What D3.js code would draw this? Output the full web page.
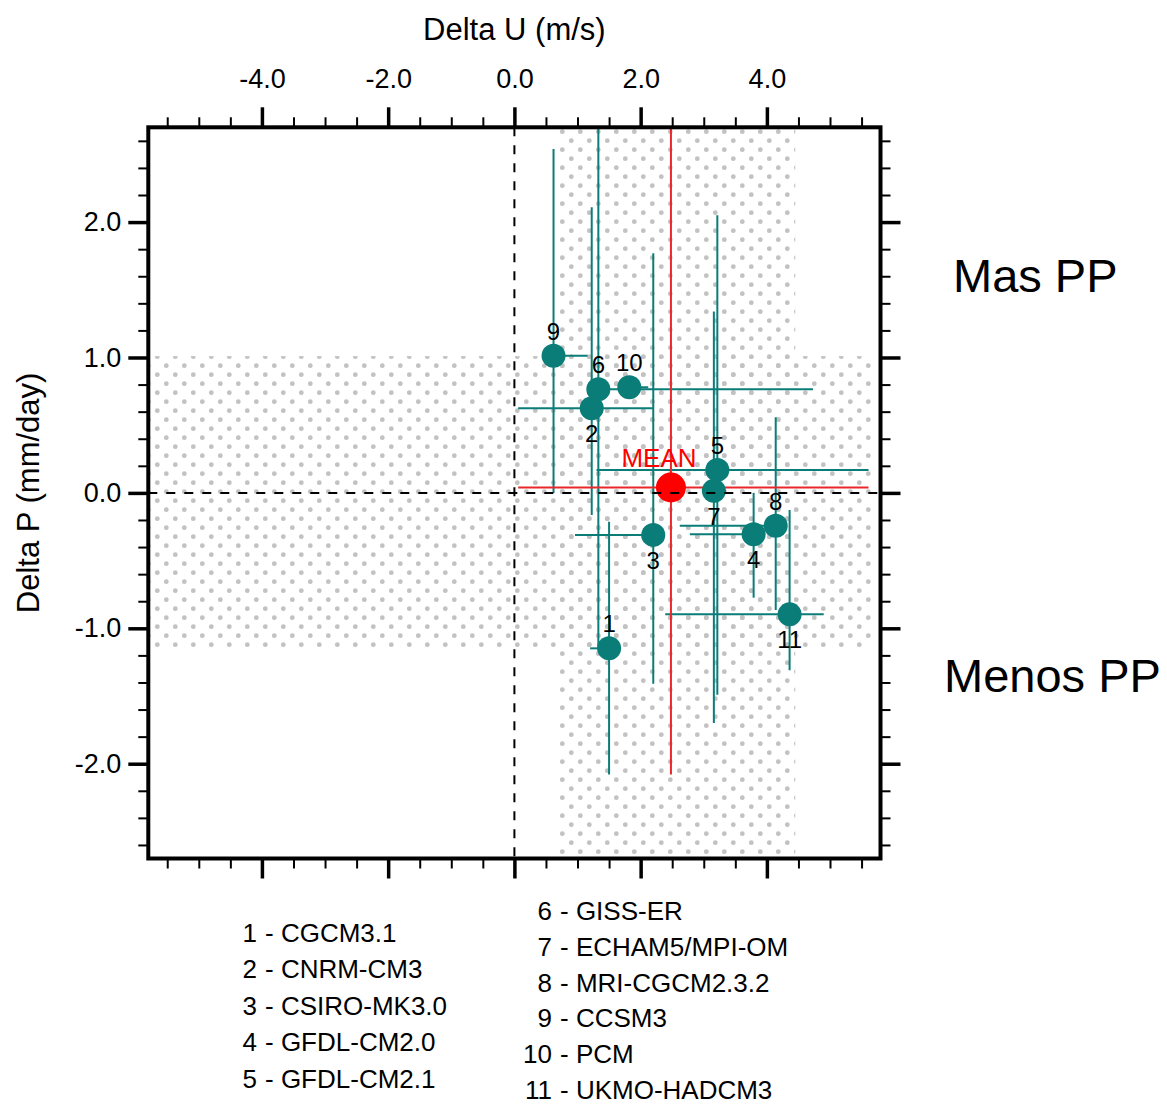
<!DOCTYPE html>
<html>
<head>
<meta charset="utf-8">
<script src="https://cdn.jsdelivr.net/npm/d3@7"></script>
<style>
  body { margin: 0; background: #fff; }
  text { font-family: "Liberation Sans", Arial, Helvetica, sans-serif; }
</style>
</head>
<body>
<div id="chart"></div>
<script>
// Model names (legend order)
const models = ["CGCM3.1", "CNRM-CM3", "CSIRO-MK3.0", "GFDL-CM2.0", "GFDL-CM2.1",
  "GISS-ER", "ECHAM5/MPI-OM", "MRI-CGCM2.3.2", "CCSM3", "PCM", "UKMO-HADCM3"];

// Central values
const deltaU = [1.50, 1.225, 2.20, 3.79, 3.215, 1.33, 3.16, 4.14, 0.62, 1.82, 4.36];
const deltaP = [-1.148, 0.625, -0.31, -0.305, 0.17, 0.766, 0.015, -0.242, 1.013, 0.78, -0.897];

// Ranges (whiskers)
const uLow  = [1.20, 0.06, 0.96, 2.78, 1.30, 1.30, 3.00, 2.62, 0.50, 1.75, 2.39];
const uHigh = [1.55, 2.20, 2.30, 3.90, 5.61, 4.73, 3.35, 4.20, 1.16, 2.12, 4.90];
const pLow  = [-2.08, -0.163, -1.41, -0.774, -1.49, -1.136, -1.70, -0.865, 0.0, 0.70, -1.31];
const pHigh = [-0.213, 2.11, 1.77, 0.0, 2.05, 2.9, 1.34, 0.558, 2.54, 0.85, -0.126];

// where the model number goes
const labelSide = ["above", "below", "below", "below", "above", "above", "below", "above", "above", "above", "below"];

// Ensemble mean
const meanU = 2.48, meanP = 0.04;
const meanURange = [0.06, 5.61];
const meanPRange = [-2.08, 2.9];

// Stippled regions
const bandU = [[-5.8, 5.7], [0.7, 4.45]];
const bandP = [[-1.16, 1.01], [-2.7, 2.7]];

// Axis ticks
const xTicks = [-4, -2, 0, 2, 4];
const yTicks = [-2, -1, 0, 1, 2];

const W = 1167, H = 1108;
const pL = 148.3, pR = 880.5, pT = 127.3, pB = 858.5;

const x = d3.scaleLinear().domain([-5.8, 5.8]).range([pL, pR]);
const y = d3.scaleLinear().domain([-2.7, 2.7]).range([pB, pT]);

const svg = d3.select("#chart").append("svg")
  .attr("width", W).attr("height", H);

const defs = svg.append("defs");
const pat = defs.append("pattern")
  .attr("id", "dots")
  .attr("patternUnits", "userSpaceOnUse")
  .attr("width", 18).attr("height", 18);
pat.append("circle").attr("cx", 4.3).attr("cy", 5.7).attr("r", 2.4).attr("fill", "#c2c2c2");
pat.append("circle").attr("cx", 13.3).attr("cy", 14.7).attr("r", 2.4).attr("fill", "#c2c2c2");

defs.append("clipPath").attr("id", "plotClip")
  .append("rect")
  .attr("x", pL).attr("y", pT)
  .attr("width", pR - pL).attr("height", pB - pT);

// Stipple bands
svg.append("g").selectAll("rect")
  .data(d3.range(bandU.length))
  .join("rect")
  .attr("x", i => x(bandU[i][0]))
  .attr("width", i => x(bandU[i][1]) - x(bandU[i][0]))
  .attr("y", i => y(bandP[i][1]))
  .attr("height", i => y(bandP[i][0]) - y(bandP[i][1]))
  .attr("fill", "url(#dots)");

const teal = "#0a7d78";
const idx = d3.range(models.length);
const plot = svg.append("g").attr("clip-path", "url(#plotClip)");

// Model whiskers
plot.append("g").selectAll("line")
  .data(idx).join("line")
  .attr("x1", i => x(uLow[i])).attr("x2", i => x(uHigh[i]))
  .attr("y1", i => y(deltaP[i])).attr("y2", i => y(deltaP[i]))
  .attr("stroke", teal).attr("stroke-width", 2);
plot.append("g").selectAll("line")
  .data(idx).join("line")
  .attr("x1", i => x(deltaU[i])).attr("x2", i => x(deltaU[i]))
  .attr("y1", i => y(pLow[i])).attr("y2", i => y(pHigh[i]))
  .attr("stroke", teal).attr("stroke-width", 2);

// Mean whiskers
plot.append("line")
  .attr("x1", x(meanURange[0])).attr("x2", x(meanURange[1]))
  .attr("y1", y(meanP)).attr("y2", y(meanP))
  .attr("stroke", "#e8282b").attr("stroke-width", 2);
plot.append("line")
  .attr("x1", x(meanU)).attr("x2", x(meanU))
  .attr("y1", y(meanPRange[0])).attr("y2", y(meanPRange[1]))
  .attr("stroke", "#e8282b").attr("stroke-width", 2);

// Markers
svg.append("g").selectAll("circle")
  .data(idx).join("circle")
  .attr("cx", i => x(deltaU[i])).attr("cy", i => y(deltaP[i]))
  .attr("r", 12).attr("fill", teal);
svg.append("circle")
  .attr("cx", x(meanU)).attr("cy", y(meanP))
  .attr("r", 15).attr("fill", "#ff0000");

// Point labels
svg.append("g").selectAll("text")
  .data(idx).join("text")
  .attr("x", i => x(deltaU[i]))
  .attr("y", i => y(deltaP[i]) + (labelSide[i] === "above" ? -16 : 34))
  .attr("text-anchor", "middle")
  .attr("font-size", 24)
  .text(i => i + 1);
svg.append("text")
  .attr("x", x(meanU) - 12).attr("y", y(meanP) - 20)
  .attr("text-anchor", "middle")
  .attr("font-size", 26)
  .attr("fill", "#ff0000")
  .text("MEAN");

// Zero lines (drawn on top)
svg.append("line")
  .attr("x1", x(0)).attr("x2", x(0)).attr("y1", pT).attr("y2", pB)
  .attr("stroke", "#000").attr("stroke-width", 2).attr("stroke-dasharray", "9,9");
svg.append("line")
  .attr("x1", pL).attr("x2", pR).attr("y1", y(0)).attr("y2", y(0))
  .attr("stroke", "#000").attr("stroke-width", 2).attr("stroke-dasharray", "9,9");

// Axes
const fmt = d => d.toFixed(1);
const xMinor = d3.range(-5.5, 5.51, 0.5).filter(v => !xTicks.includes(Math.round(v * 10) / 10));
const yMinor = d3.range(-2.6, 2.61, 0.2).map(v => Math.round(v * 10) / 10)
  .filter(v => !yTicks.includes(v));

function styleAxis(g, w) {
  g.select(".domain").remove();
  g.selectAll(".tick line").attr("stroke", "#000").attr("stroke-width", w);
  g.selectAll(".tick text").attr("fill", "#000").attr("font-size", 27)
    .attr("font-family", "'Liberation Sans', Arial, sans-serif");
}

svg.append("g").attr("transform", `translate(0,${pT})`)
  .call(d3.axisTop(x).tickValues(xTicks).tickSize(20).tickPadding(19).tickFormat(fmt))
  .call(g => styleAxis(g, 3.5));
svg.append("g").attr("transform", `translate(0,${pT})`)
  .call(d3.axisTop(x).tickValues(xMinor).tickSize(10).tickFormat(""))
  .call(g => styleAxis(g, 2));
svg.append("g").attr("transform", `translate(0,${pB})`)
  .call(d3.axisBottom(x).tickValues(xTicks).tickSize(20).tickFormat(""))
  .call(g => styleAxis(g, 3.5));
svg.append("g").attr("transform", `translate(0,${pB})`)
  .call(d3.axisBottom(x).tickValues(xMinor).tickSize(10).tickFormat(""))
  .call(g => styleAxis(g, 2));

svg.append("g").attr("transform", `translate(${pL},0)`)
  .call(d3.axisLeft(y).tickValues(yTicks).tickSize(20).tickPadding(7).tickFormat(fmt))
  .call(g => styleAxis(g, 3.5));
svg.append("g").attr("transform", `translate(${pL},0)`)
  .call(d3.axisLeft(y).tickValues(yMinor).tickSize(10).tickFormat(""))
  .call(g => styleAxis(g, 2));
svg.append("g").attr("transform", `translate(${pR},0)`)
  .call(d3.axisRight(y).tickValues(yTicks).tickSize(20).tickFormat(""))
  .call(g => styleAxis(g, 3.5));
svg.append("g").attr("transform", `translate(${pR},0)`)
  .call(d3.axisRight(y).tickValues(yMinor).tickSize(10).tickFormat(""))
  .call(g => styleAxis(g, 2));

// Frame
svg.append("rect")
  .attr("x", pL).attr("y", pT)
  .attr("width", pR - pL).attr("height", pB - pT)
  .attr("fill", "none").attr("stroke", "#000").attr("stroke-width", 4);

// Axis titles
svg.append("text")
  .attr("x", (pL + pR) / 2).attr("y", 40)
  .attr("text-anchor", "middle").attr("font-size", 31)
  .text("Delta U (m/s)");
svg.append("text")
  .attr("transform", `translate(39,${(pT + pB) / 2}) rotate(-90)`)
  .attr("text-anchor", "middle").attr("font-size", 31)
  .text("Delta P (mm/day)");

// Side notes
svg.append("text").attr("x", 953).attr("y", 292).attr("font-size", 47).text("Mas PP");
svg.append("text").attr("x", 944).attr("y", 692).attr("font-size", 47).text("Menos PP");

// Legend
const legend = svg.append("g").attr("font-size", 26);
idx.forEach(i => {
  const col = i < 5 ? 0 : 1;
  const row = col === 0 ? i : i - 5;
  const numEnd = col === 0 ? 257 : 552;
  const yy = col === 0 ? 942 + row * 36.4 : 920 + row * 35.8;
  legend.append("text").attr("x", numEnd).attr("y", yy)
    .attr("text-anchor", "end").text(i + 1);
  legend.append("text").attr("x", numEnd + 8).attr("y", yy)
    .text("- " + models[i]);
});
</script>
</body>
</html>
